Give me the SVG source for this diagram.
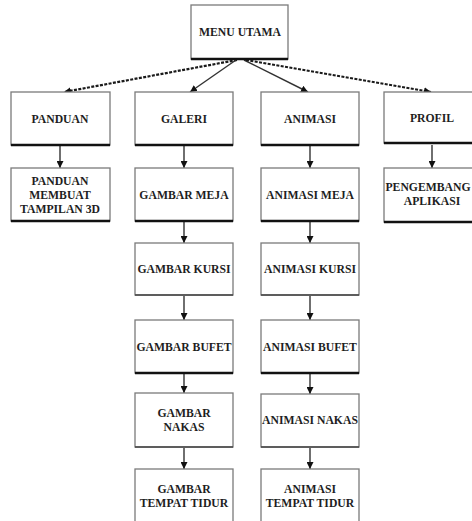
<svg xmlns="http://www.w3.org/2000/svg" width="472" height="521" viewBox="0 0 472 521">
<style>
.b{fill:#fff;stroke:#7a7a7a;stroke-width:1.3}
.bt{stroke:#111;stroke-width:2.6}
.bm{stroke:#444;stroke-width:1.6}
.t{font-family:"Liberation Serif","Times New Roman",serif;font-weight:bold;font-size:11.7px;fill:#1e1e1e;text-anchor:middle}
.c{stroke:#333;stroke-width:1.4;fill:none}
.d{stroke:#1a1a1a;stroke-width:2.2;fill:none;stroke-dasharray:3 1.4}
</style>
<defs>
<marker id="ah" viewBox="0 0 10 10" refX="10" refY="5" markerWidth="7" markerHeight="7" markerUnits="userSpaceOnUse" orient="auto">
<path d="M0,0 L10,5 L0,10 z" fill="#111"/>
</marker>
</defs>
<rect width="472" height="521" fill="#fff"/>
<g id="connectors">
<path class="d" d="M237,60 L64,92" marker-end="url(#ah)"/>
<path class="c" d="M236,60 L190,92" marker-end="url(#ah)"/>
<path class="c" d="M244,60 L308,92" marker-end="url(#ah)"/>
<path class="d" d="M246,60 L431,92" marker-end="url(#ah)"/>
<path class="c" d="M60,146 V168" marker-end="url(#ah)"/>
<path class="c" d="M184,146 V168" marker-end="url(#ah)"/>
<path class="c" d="M310,146 V168" marker-end="url(#ah)"/>
<path class="c" d="M432,145 V168" marker-end="url(#ah)"/>
<path class="c" d="M184,222 V243" marker-end="url(#ah)"/>
<path class="c" d="M310,222 V243" marker-end="url(#ah)"/>
<path class="c" d="M184,296 V320" marker-end="url(#ah)"/>
<path class="c" d="M310,296 V320" marker-end="url(#ah)"/>
<path class="c" d="M184,374 V393" marker-end="url(#ah)"/>
<path class="c" d="M310,374 V394" marker-end="url(#ah)"/>
<path class="c" d="M184,448 V469" marker-end="url(#ah)"/>
<path class="c" d="M310,448 V469" marker-end="url(#ah)"/>
</g>
<g id="menu-utama">
<rect class="b" x="191" y="5" width="97" height="54"/>
<line class="bt" x1="191" y1="59" x2="288" y2="59"/>
<text class="t" x="240" y="36">MENU UTAMA</text>
</g>
<g id="panduan">
<rect class="b" x="11" y="92" width="99" height="53"/>
<line class="bt" x1="11" y1="145" x2="110" y2="145"/>
<text class="t" x="60" y="122.5">PANDUAN</text>
</g>
<g id="galeri">
<rect class="b" x="135" y="92" width="98" height="53"/>
<line class="bt" x1="135" y1="145" x2="233" y2="145"/>
<text class="t" x="184" y="122.5">GALERI</text>
</g>
<g id="animasi">
<rect class="b" x="261" y="92" width="98" height="53"/>
<line class="bt" x1="261" y1="145" x2="359" y2="145"/>
<text class="t" x="310" y="122.5">ANIMASI</text>
</g>
<g id="profil">
<rect class="b" x="384" y="92" width="97" height="51"/>
<line class="bt" x1="384" y1="143" x2="481" y2="143"/>
<text class="t" x="432" y="122">PROFIL</text>
</g>
<g id="panduan-membuat">
<rect class="b" x="11" y="168" width="99" height="53"/>
<line class="bt" x1="11" y1="221" x2="110" y2="221"/>
<text class="t" x="60" y="185">PANDUAN</text>
<text class="t" x="60" y="199">MEMBUAT</text>
<text class="t" x="60" y="213">TAMPILAN 3D</text>
</g>
<g id="gambar-meja">
<rect class="b" x="135" y="168" width="98" height="53"/>
<line class="bt" x1="135" y1="221" x2="233" y2="221"/>
<text class="t" x="184" y="198.5">GAMBAR MEJA</text>
</g>
<g id="animasi-meja">
<rect class="b" x="261" y="168" width="98" height="53"/>
<line class="bt" x1="261" y1="221" x2="359" y2="221"/>
<text class="t" x="310" y="198.5">ANIMASI MEJA</text>
</g>
<g id="pengembang-aplikasi">
<rect class="b" x="384" y="168" width="97" height="54"/>
<line class="bt" x1="384" y1="222" x2="481" y2="222"/>
<text class="t" x="428" y="191">PENGEMBANG</text>
<text class="t" x="432" y="205">APLIKASI</text>
</g>
<g id="gambar-kursi">
<rect class="b" x="135" y="243" width="98" height="52"/>
<line class="bm" x1="135" y1="295" x2="233" y2="295"/>
<text class="t" x="184" y="273">GAMBAR KURSI</text>
</g>
<g id="animasi-kursi">
<rect class="b" x="261" y="243" width="98" height="52"/>
<line class="bm" x1="261" y1="295" x2="359" y2="295"/>
<text class="t" x="310" y="273">ANIMASI KURSI</text>
</g>
<g id="gambar-bufet">
<rect class="b" x="135" y="320" width="98" height="53"/>
<line class="bt" x1="135" y1="373" x2="233" y2="373"/>
<text class="t" x="184" y="350.5">GAMBAR BUFET</text>
</g>
<g id="animasi-bufet">
<rect class="b" x="261" y="320" width="98" height="53"/>
<line class="bt" x1="261" y1="373" x2="359" y2="373"/>
<text class="t" x="310" y="350.5">ANIMASI BUFET</text>
</g>
<g id="gambar-nakas">
<rect class="b" x="135" y="393" width="98" height="54"/>
<line class="bm" x1="135" y1="447" x2="233" y2="447"/>
<text class="t" x="184" y="417">GAMBAR</text>
<text class="t" x="184" y="431">NAKAS</text>
</g>
<g id="animasi-nakas">
<rect class="b" x="261" y="394" width="98" height="53"/>
<line class="bm" x1="261" y1="447" x2="359" y2="447"/>
<text class="t" x="310" y="424">ANIMASI NAKAS</text>
</g>
<g id="gambar-tempat-tidur">
<rect class="b" x="135" y="469" width="98" height="70"/>
<text class="t" x="184" y="493">GAMBAR</text>
<text class="t" x="184" y="507">TEMPAT TIDUR</text>
</g>
<g id="animasi-tempat-tidur">
<rect class="b" x="261" y="469" width="98" height="70"/>
<text class="t" x="310" y="493">ANIMASI</text>
<text class="t" x="310" y="507">TEMPAT TIDUR</text>
</g>
</svg>
